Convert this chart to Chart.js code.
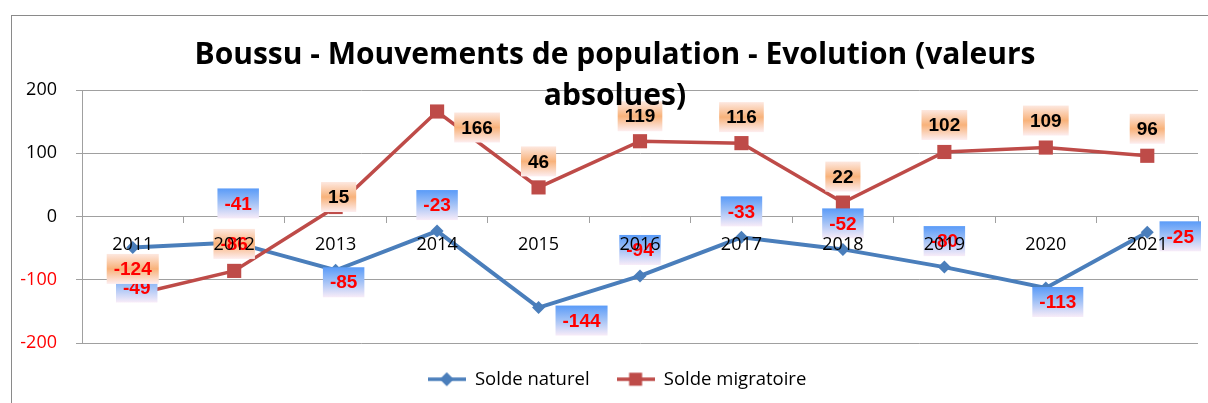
<!DOCTYPE html>
<html>
<head>
<meta charset="utf-8">
<script src="https://cdn.jsdelivr.net/npm/chart.js@4.4.0/dist/chart.umd.min.js"></script>
<style>
html,body{margin:0;padding:0;background:#fff;overflow:hidden}
#wrap{position:relative;width:1208px;height:403px;overflow:hidden}
#frame{position:absolute;left:11px;top:15px;width:1400px;height:600px;border:1px solid #8a8a8a;box-sizing:border-box}
#c{position:absolute;left:0;top:0}
#title{position:absolute;left:0;top:32px;width:1230px;text-align:center;font-family:"Open Sans",sans-serif;font-weight:bold;font-size:30px;line-height:41px;color:#000;pointer-events:none;font-variant-ligatures:none}
</style>
</head>
<body>
<div id="wrap">
  <div id="frame"></div>
  <canvas id="c" width="1208" height="403"></canvas>
  <div id="title">Boussu - Mouvements de population - Evolution (valeurs<br>absolues)</div>
</div>
<script>
// ---- data ----
const years = ['2011','2012','2013','2014','2015','2016','2017','2018','2019','2020','2021'];
const soldeNaturel = [-49, -41, -85, -23, -144, -94, -33, -52, -80, -113, -25];
const soldeMigratoire = [-124, -86, 15, 166, 46, 119, 116, 22, 102, 109, 96];
const yTicks = [-200, -100, 0, 100, 200];
const yTickLabels = ['-200', '-100', '0', '100', '200'];
const seriesNames = ['Solde naturel', 'Solde migratoire'];

// ---- style: label offsets (box centre relative to the point, px) ----
const naturelLabelOffsets = [[4,40],[4,-39],[8,12],[0,-26],[43,13],[0,-26],[0,-26],[0,-26],[0,-26],[12,14],[33,4]];
const migratoireLabelOffsets = [[0,-26],[0,-27],[3,-10],[40,16],[0,-26],[0,-25],[0,-26],[0,-26],[0,-27],[0,-27],[0,-27]];

const BLUE = '#4a7ebb';
const RED = '#be4b48';
const GRID = '#a0a0a0';
const FONT = '"Open Sans", sans-serif';

function legendIcon(color, kind) {
  const cv = document.createElement('canvas');
  cv.width = 38; cv.height = 16;
  const g = cv.getContext('2d');
  g.strokeStyle = color; g.lineWidth = 3.5;
  g.beginPath(); g.moveTo(0, 8); g.lineTo(38, 8); g.stroke();
  g.fillStyle = color;
  if (kind === 'diamond') {
    g.beginPath(); g.moveTo(19, 1); g.lineTo(26, 8); g.lineTo(19, 15); g.lineTo(12, 8); g.closePath(); g.fill();
  } else {
    g.fillRect(12.5, 1.5, 13, 13);
  }
  return cv;
}
const icons = [legendIcon(BLUE, 'diamond'), legendIcon(RED, 'square')];

const labelPlugin = {
  id: 'boxLabels',
  afterLayout(chart) {
    // centre the legend row like the reference (legend box starts at x=29)
    if (chart.legend) { chart.legend.left = 29; }
  },
  afterDatasetsDraw(chart) {
    const ctx = chart.ctx;
    const sets = [
      {meta: chart.getDatasetMeta(0), vals: soldeNaturel, offs: naturelLabelOffsets, kind: 'blue'},
      {meta: chart.getDatasetMeta(1), vals: soldeMigratoire, offs: migratoireLabelOffsets, kind: 'orange'}
    ];
    ctx.save();
    ctx.font = 'bold 19px "Liberation Sans", Arial, sans-serif';
    ctx.textAlign = 'center';
    ctx.textBaseline = 'middle';
    sets.forEach(s => {
      s.meta.data.forEach((pt, i) => {
        const txt = String(s.vals[i]);
        const w = ctx.measureText(txt).width + 14;
        const h = 30;
        const cx = pt.x + s.offs[i][0];
        const cy = pt.y + s.offs[i][1];
        const top = cy - h / 2;
        const grd = ctx.createLinearGradient(0, top, 0, top + h);
        if (s.kind === 'blue') {
          grd.addColorStop(0, '#5a9bf8');
          grd.addColorStop(0.45, '#9dbff6');
          grd.addColorStop(1, '#f8ecf8');
        } else {
          grd.addColorStop(0, '#fde8e0');
          grd.addColorStop(0.5, '#f8b27a');
          grd.addColorStop(1, '#fdeef0');
        }
        ctx.fillStyle = grd;
        ctx.fillRect(cx - w / 2, top, w, h);
        ctx.fillStyle = s.vals[i] < 0 ? '#ff0000' : '#000000';
        ctx.fillText(txt, cx, cy + 1);
      });
    });
    ctx.restore();
  }
};

new Chart(document.getElementById('c'), {
  type: 'line',
  data: {
    labels: years,
    datasets: [
      {
        label: seriesNames[0], data: soldeNaturel, order: 1,
        borderColor: BLUE, backgroundColor: BLUE, borderWidth: 4, tension: 0,
        pointStyle: 'rectRot', pointRadius: 6.5, pointBorderWidth: 0,
        pointBackgroundColor: BLUE
      },
      {
        label: seriesNames[1], data: soldeMigratoire, order: 0,
        borderColor: RED, backgroundColor: RED, borderWidth: 3.5, tension: 0,
        pointStyle: 'rect', pointRadius: 10, pointBorderWidth: 0,
        pointBackgroundColor: RED
      }
    ]
  },
  options: {
    responsive: false,
    animation: false,
    devicePixelRatio: 1,
    layout: { padding: { top: 90, left: 0, right: 3, bottom: 4.5 } },
    plugins: {
      title: { display: false },
      tooltip: { enabled: false },
      legend: {
        position: 'bottom',
        labels: {
          usePointStyle: true,
          pointStyleWidth: 38,
          padding: 27,
          color: '#000',
          font: { family: FONT, size: 18.5 },
          sort: (a, b) => a.datasetIndex - b.datasetIndex,
          generateLabels(chart) {
            const items = Chart.defaults.plugins.legend.labels.generateLabels(chart);
            return items.map(it => Object.assign(it, { pointStyle: icons[it.datasetIndex] }));
          }
        }
      }
    },
    scales: {
      x: {
        position: { y: 0 },
        offset: true,
        grid: { offset: true, drawOnChartArea: false, drawTicks: true, tickLength: 6, color: GRID },
        border: { display: true, color: GRID, width: 1 },
        ticks: { z: 1, color: '#000', font: { family: FONT, size: 18 }, padding: 12, maxRotation: 0, autoSkip: false }
      },
      y: {
        min: -200, max: 200,
        afterBuildTicks(scale) { scale.ticks = yTicks.map(v => ({ value: v })); },
        afterFit(scale) { scale.width = 82; },
        grid: { color: GRID, tickLength: 6, drawTicks: true },
        border: { display: true, color: GRID, width: 1 },
        ticks: {
          padding: 19,
          font: { family: FONT, size: 18 },
          callback: (v) => yTickLabels[yTicks.indexOf(v)],
          color: (c) => (yTicks[c.index] < 0) ? '#ff0000' : '#000000'
        }
      }
    }
  },
  plugins: [labelPlugin]
});
</script>
</body>
</html>
